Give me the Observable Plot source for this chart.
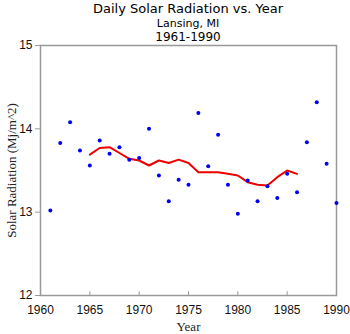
<!DOCTYPE html>
<html>
<head>
<meta charset="utf-8">
<script src="https://cdn.jsdelivr.net/npm/d3@7"></script>
<script src="https://cdn.jsdelivr.net/npm/@observablehq/plot@0.6"></script>
<style>
  body { margin: 0; background: #fff; }
  #wrap { position: relative; width: 350px; height: 334px; }
  .t { position: absolute; left: 40px; width: 296px; text-align: center; font-family: "DejaVu Sans", sans-serif; color: #000; white-space: nowrap; }
  #t1 { top: 1px; font-size: 13px; }
  #t2 { top: 17px; font-size: 11px; }
  #t3 { top: 30px; font-size: 12px; }
  svg { font-family: "Liberation Sans", Arial, sans-serif; }
</style>
</head>
<body>
<div id="wrap">
  <div class="t" id="t1">Daily Solar Radiation vs. Year</div>
  <div class="t" id="t2">Lansing, MI</div>
  <div class="t" id="t3">1961-1990</div>
</div>
<script>
const title = "Daily Solar Radiation vs. Year";
const subtitle1 = "Lansing, MI";
const subtitle2 = "1961-1990";
const xLabel = "Year";
const yLabel = "Solar Radiation (Mj/m^2)";

const years = [1961,1962,1963,1964,1965,1966,1967,1968,1969,1970,1971,1972,1973,1974,1975,1976,1977,1978,1979,1980,1981,1982,1983,1984,1985,1986,1987,1988,1989,1990];
const radiation = [13.02,13.83,14.08,13.74,13.56,13.86,13.70,13.78,13.63,13.65,14.00,13.44,13.13,13.39,13.33,14.19,13.55,13.93,13.33,12.98,13.38,13.13,13.31,13.17,13.46,13.24,13.84,14.32,13.58,13.11];

const avgYears = [1965,1966,1967,1968,1969,1970,1971,1972,1973,1974,1975,1976,1977,1978,1979,1980,1981,1982,1983,1984,1985,1986];
const avgValues = [13.69,13.77,13.78,13.71,13.64,13.62,13.56,13.62,13.59,13.63,13.59,13.48,13.48,13.48,13.46,13.44,13.36,13.33,13.32,13.42,13.50,13.46];

const xTicks = [1960,1965,1970,1975,1980,1985,1990];
const yTicks = [12,13,14,15];

const points = years.map((y,i) => ({year: y, value: radiation[i]}));
const avg = avgYears.map((y,i) => ({year: y, value: avgValues[i]}));

const chart = Plot.plot({
  width: 350,
  height: 334,
  marginLeft: 40,
  marginRight: 14,
  marginTop: 45,
  marginBottom: 39,
  style: {fontFamily: "'Liberation Sans', Arial, sans-serif", fontSize: "11px", background: "white"},
  x: {domain: [1960, 1990], ticks: xTicks, tickFormat: d => String(d), label: null},
  y: {domain: [12, 15], ticks: yTicks, tickFormat: d => String(d), label: null},
  marks: [
    Plot.frame({stroke: "#999", strokeWidth: 1.5}),
    Plot.ruleX(xTicks, {x: d => d, y1: 12, y2: 12.045, stroke: "#999"}),
    Plot.axisX({ticks: xTicks, tickFormat: d => String(d), tickSize: 0, tickPadding: 10, label: null, fontSize: 12, fill: "#111"}),
    Plot.axisY({ticks: yTicks, tickFormat: d => String(d), tickSize: 5, tickPadding: 3, stroke: "#999", label: null, fontSize: 12, fill: "#111"}),
    Plot.line(avg, {x: "year", y: "value", stroke: "#ee0000", strokeWidth: 2}),
    Plot.dot(points, {x: "year", y: "value", r: 2, fill: "#0000ee", stroke: null}),
    Plot.text([xLabel], {frameAnchor: "bottom", dy: 35, text: d => d, fontFamily: "'Liberation Serif', 'Times New Roman', serif", fontSize: 13, fill: "#222"}),
    Plot.text([yLabel], {frameAnchor: "left", textAnchor: "middle", dx: -29, rotate: -90, text: d => d, fontFamily: "'Liberation Serif', 'Times New Roman', serif", fontSize: 13, fill: "#222"})
  ]
});
document.getElementById("wrap").prepend(chart);
chart.style.position = "absolute";
chart.style.left = "0";
chart.style.top = "0";
</script>
</body>
</html>
